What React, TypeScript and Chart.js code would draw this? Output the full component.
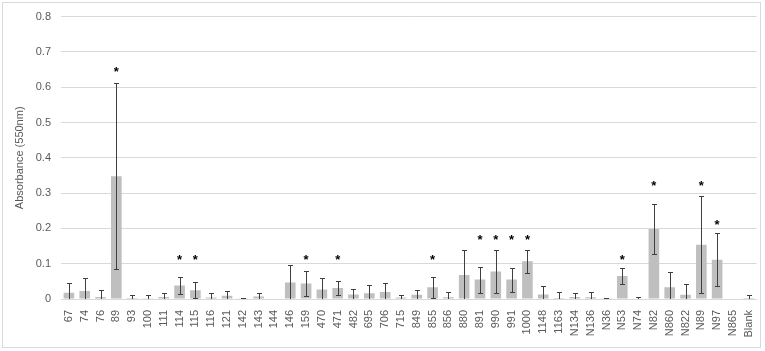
import React, { useEffect, useRef } from "react";
import { Chart, registerables } from "chart.js";

Chart.register(...registerables);

const categories = ["67","74","76","89","93","100","111","114","115","116","121","142","143","144","146","159","470","471","482","695","706","715","849","855","856","880","891","990","991","1000","1148","1163","N134","N136","N36","N53","N74","N82","N860","N822","N89","N97","N865","Blank"];

const means = [0.018,0.023,0.006,0.348,0.003,0.001,0.006,0.038,0.025,0.004,0.009,0.002,0.007,0,0.047,0.044,0.027,0.031,0.013,0.016,0.020,0.004,0.012,0.033,0.005,0.068,0.055,0.078,0.055,0.107,0.013,0.003,0.006,0.005,0.002,0.065,0,0.198,0.033,0.012,0.154,0.111,0,0.003];

const errors = [0.026,0.037,0.019,0.263,0.008,0.010,0.010,0.023,0.022,0.013,0.015,0.001,0.009,0,0.048,0.035,0.032,0.019,0.016,0.025,0.024,0.006,0.013,0.030,0.015,0.072,0.037,0.060,0.034,0.032,0.025,0.017,0.011,0.014,0.001,0.023,0.007,0.071,0.044,0.031,0.138,0.075,0,0.009];

// y-position (in axis units) of significance asterisks; null = none
const stars = [null,null,null,0.649,null,null,null,0.119,0.119,null,null,null,null,null,null,0.119,null,0.119,null,null,null,null,null,0.119,null,null,0.175,0.175,0.175,0.175,null,null,null,null,null,0.119,null,0.328,null,null,0.328,0.217,null,null];

const yTicks = [0, 0.1, 0.2, 0.3, 0.4, 0.5, 0.6, 0.7, 0.8];

const FONT = "'Liberation Sans', 'DejaVu Sans', sans-serif";

const frame = {
  id: "frame",
  beforeDraw(chart: any) {
    const ctx = chart.ctx;
    ctx.save();
    ctx.fillStyle = "#ffffff";
    ctx.fillRect(0, 0, chart.width, chart.height);
    ctx.strokeStyle = "#d9d9d9";
    ctx.lineWidth = 1;
    ctx.strokeRect(2.5, 2.5, 758, 345);
    ctx.restore();
  },
};

const errorBars = {
  id: "errorBars",
  afterDatasetsDraw(chart: any) {
    const ctx = chart.ctx;
    const x = chart.scales.x;
    const y = chart.scales.y;
    const area = chart.chartArea;
    ctx.save();
    ctx.beginPath();
    ctx.rect(area.left, area.top - 2, area.right - area.left, area.bottom - area.top + 2);
    ctx.clip();
    ctx.strokeStyle = "#3f3f3f";
    ctx.lineWidth = 1;
    means.forEach((m, i) => {
      const e = errors[i];
      if (!e) return;
      const cx = Math.round(x.getPixelForValue(i)) + 0.5;
      const top = Math.round(y.getPixelForValue(m + e)) + 0.5;
      const bot = Math.round(y.getPixelForValue(Math.max(m - e, -0.01))) + 0.5;
      ctx.beginPath();
      ctx.moveTo(cx, top);
      ctx.lineTo(cx, bot);
      ctx.moveTo(cx - 2.5, top);
      ctx.lineTo(cx + 2.5, top);
      if (m - e > 0) {
        ctx.moveTo(cx - 2.5, bot);
        ctx.lineTo(cx + 2.5, bot);
      }
      ctx.stroke();
    });
    ctx.restore();
    ctx.save();
    ctx.fillStyle = "#000000";
    ctx.font = `bold 13px ${FONT}`;
    ctx.textAlign = "center";
    ctx.textBaseline = "middle";
    stars.forEach((s, i) => {
      if (s === null) return;
      const cx = x.getPixelForValue(i);
      const cy = y.getPixelForValue(s);
      ctx.fillText("*", cx, cy + 3);
    });
    ctx.restore();
  },
};

export default function App() {
  const ref = useRef<HTMLCanvasElement>(null);
  useEffect(() => {
    if (!ref.current) return;
    const chart = new Chart(ref.current, {
      type: "bar",
      data: {
        labels: categories,
        datasets: [
          {
            data: means,
            backgroundColor: "#bfbfbf",
            borderWidth: 0,
            barPercentage: 0.8,
            categoryPercentage: 0.84,
          },
        ],
      },
      options: {
        animation: false,
        responsive: false,
        maintainAspectRatio: false,
        layout: { padding: { left: 0, top: 9, right: 3, bottom: 0 } },
        plugins: {
          legend: { display: false },
          tooltip: { enabled: false },
        },
        scales: {
          x: {
            grid: { display: false },
            border: { display: true, color: "#d9d9d9" },
            ticks: {
              color: "#595959",
              font: { family: FONT, size: 11 },
              maxRotation: 90,
              minRotation: 90,
              autoSkip: false,
              padding: 3,
            },
            afterFit(scale: any) {
              scale.height = 52;
            },
          },
          y: {
            min: 0,
            max: 0.8,
            afterBuildTicks(scale: any) {
              scale.ticks = yTicks.map((v) => ({ value: v }));
            },
            grid: { color: "#d9d9d9", drawTicks: false },
            border: { display: false },
            ticks: {
              color: "#595959",
              font: { family: FONT, size: 11 },
              padding: 10,
              callback: (v: any) => String(Math.round(Number(v) * 10) / 10),
            },
            title: {
              display: true,
              text: "Absorbance (550nm)",
              color: "#595959",
              font: { family: FONT, size: 11 },
              padding: { top: 13, bottom: 0 },
            },
            afterFit(scale: any) {
              scale.width = 61;
            },
          },
        },
      },
      plugins: [frame, errorBars],
    });
    return () => chart.destroy();
  }, []);
  return (
    <div style={{ position: "fixed", left: 0, top: 0, width: 765, height: 351, background: "#fff" }}>
      <canvas ref={ref} width={765} height={351} style={{ display: "block" }} />
    </div>
  );
}
